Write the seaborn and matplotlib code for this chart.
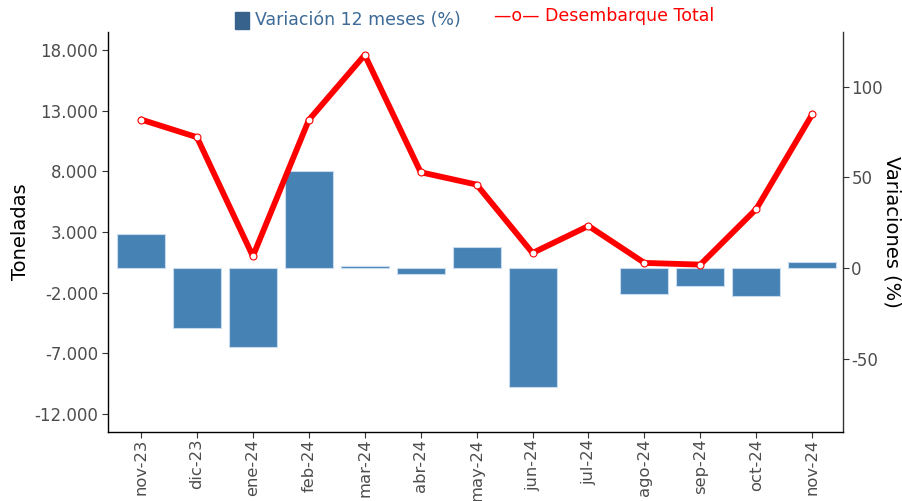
import numpy as np
import pandas as pd
import matplotlib
matplotlib.use("Agg")
import matplotlib.pyplot as plt
import matplotlib.ticker as mticker
from matplotlib.patches import Rectangle
import seaborn as sns

months = ["nov-23", "dic-23", "ene-24", "feb-24", "mar-24", "abr-24", "may-24",
          "jun-24", "jul-24", "ago-24", "sep-24", "oct-24", "nov-24"]
variacion = [18.7, -33.0, -43.3, 53.6, 1.1, -3.1, 11.6,
             -65.2, np.nan, -14.2, -9.7, -15.3, 3.5]
desembarque = [12280, 10820, 1000, 12240, 17610, 7930, 6910,
               1270, 3500, 450, 310, 4900, 12710]
left_ticks = [-12000, -7000, -2000, 3000, 8000, 13000, 18000]
right_ticks = [-50, 0, 50, 100]

df = pd.DataFrame({"mes": months, "var": variacion, "des": desembarque,
                   "pos": np.arange(len(months))})

sns.set_theme(style="white")
plt.rcParams["font.family"] = ["DejaVu Sans"]
plt.rcParams["axes.unicode_minus"] = False

fig = plt.figure(figsize=(9.02, 5.01), dpi=100)
ax = fig.add_axes([108/902, 1-432/501, (843-108)/902, (432-32)/501])
ax2 = ax.twinx()

# bars on right axis (%)
sns.barplot(data=df, x="mes", y="var", order=months, ax=ax2, color="#4682B4",
            saturation=1, width=0.86, edgecolor="#c9dbee", linewidth=0.8)
# line on left axis (tonnes)
sns.lineplot(data=df, x="pos", y="des", ax=ax, color="#FF0000", linewidth=4.2,
             marker="o", markersize=5, markerfacecolor="white",
             markeredgecolor="#FF0000", markeredgewidth=0.8)

ax.set_zorder(ax2.get_zorder() + 1)
ax.patch.set_visible(False)

ax.set_ylim(-13500, 19500)
ax2.set_ylim(-90, 130)

ax.set_yticks(left_ticks)
ax.yaxis.set_major_formatter(mticker.FuncFormatter(lambda v, p: f"{int(v):,}".replace(",", ".")))
ax2.set_yticks(right_ticks)
ax.set_xticks(np.arange(len(months)))
ax.set_xticklabels(months, rotation=90)
ax.set_xlim(-0.59, 12.55)

ax.set_xlabel("")
ax2.set_xlabel("")
ax.set_ylabel("Toneladas", fontsize=14, color="black")
ax.yaxis.set_label_coords((21-108)/735, 0.5)
ax.yaxis.label.set_va("center")
ax2.set_ylabel("Variaciones (%)", fontsize=14, color="black", rotation=270)
ax2.yaxis.set_label_coords((892-108)/735, 0.5)
ax2.yaxis.label.set_va("center")

ax.tick_params(axis="y", which="major", length=4, width=0.8, color="#333333",
               labelsize=12, labelcolor="#4d4d4d", direction="out", left=True, pad=3)
ax.tick_params(axis="x", which="major", length=4, width=0.8, color="#333333",
               labelsize=11.8, labelcolor="#4d4d4d", direction="out", bottom=True, pad=1)
ax2.tick_params(axis="y", length=4, width=0.8, color="#333333", labelsize=12,
                labelcolor="#4d4d4d", direction="out", right=True, pad=2)

for a in (ax, ax2):
    a.spines["top"].set_visible(False)
ax.spines["right"].set_visible(False)
ax.spines["left"].set_color("black")
ax.spines["bottom"].set_color("black")
ax.spines["left"].set_linewidth(1.0)
ax.spines["bottom"].set_linewidth(1.0)
ax2.spines["left"].set_visible(False)
ax2.spines["bottom"].set_visible(False)
ax2.spines["right"].set_color("#333333")
ax2.spines["right"].set_linewidth(1.0)
ax.grid(False)
ax2.grid(False)

# legend at top
fig.patches.append(Rectangle((235/902, 1-29/501), 14/902, 17/501,
                             transform=fig.transFigure, color="#36628C"))
fig.text(255/902, 1-20/501, "Variación 12 meses (%)", fontsize=12.5,
         color="#3D6A96", va="center", ha="left")
fig.text(494/902, 1-16/501, "—o— Desembarque Total", fontsize=12.5,
         color="#FF0000", va="center", ha="left")

fig.savefig("out.png", dpi=100)
